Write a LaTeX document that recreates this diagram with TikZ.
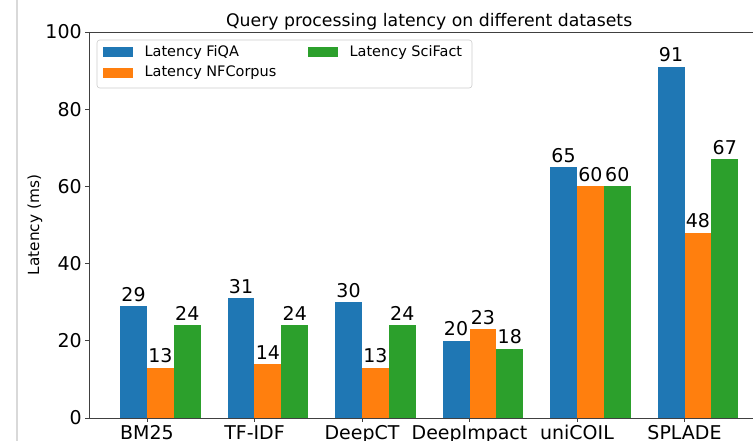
\documentclass[tikz,border=0pt]{standalone}
\usepackage{fontspec}
\setmainfont{DejaVu Sans}
\usetikzlibrary{positioning}
\definecolor{fiqa}{HTML}{1F77B4}
\definecolor{nfcorpus}{HTML}{FF7F0E}
\definecolor{scifact}{HTML}{2CA02C}
\tikzset{
  ticklabel/.style={font=\fontsize{13.5}{16}\selectfont, inner sep=0pt},
  barlabel/.style={font=\fontsize{13.5}{16}\selectfont, inner sep=0pt, anchor=base, yshift=3.5pt},
  legpatch/.style={minimum width=0.75cm, minimum height=0.25cm, inner sep=0pt},
  legtext/.style={font=\fontsize{10.3}{12}\selectfont, inner sep=0pt},
  spine/.style={black!75, line width=0.6pt}
}
\begin{document}
\begin{tikzpicture}[x=2.6875cm, y=0.0965cm]
\useasboundingbox (-1.3674,-5.959) rectangle (5.6372,108.29);
\draw[black!15, line width=0.8pt] (-1.209,-5.959) -- (-1.209,108.29);
% bars and their values
\foreach \i/\a/\b/\c in {0/29/13/24,1/31/14/24,2/30/13/24,3/20/23/18,4/65/60/60,5/91/48/67}{
  \fill[fiqa] (\i-0.25,0) rectangle (\i,\a);
  \fill[nfcorpus] (\i,0) rectangle (\i+0.25,\b);
  \fill[scifact] (\i+0.25,0) rectangle (\i+0.5,\c);
  \node[barlabel] (fiqa\i) at (\i-0.125,\a) {\a};
  \node[barlabel] (nfc\i) at (\i+0.125,\b) {\b};
  \node[barlabel] (sci\i) at (\i+0.375,\c) {\c};
}
% axes
\draw[spine] (-0.5375,100) -- (-0.5375,0) -- (5.7875,0);
\draw[spine] (-0.5375,100) -- (5.7875,100);
\foreach \v in {0,20,...,100}{
  \draw[spine] (-0.5375,\v) -- (-0.575,\v);
  \node[ticklabel, anchor=east] (y\v) at (-0.6047,\v) {\v};
}
\foreach \i/\name in {0/BM25,1/TF-IDF,2/DeepCT,3/DeepImpact,4/uniCOIL,5/SPLADE}{
  \draw[spine] (\i,0) -- (\i,-1.04);
  \node[ticklabel, anchor=base] (x\i) at (\i,-5.55) {\name};
}
\node[rotate=90, font=\fontsize{10.9}{13}\selectfont] (ylabel) at (-1.042,50) {Latency (ms)};
\node[font=\fontsize{12.3}{15}\selectfont, anchor=base] (title) at (2.625,101.55) {Query processing latency on different datasets};
% legend
\draw[rounded corners=2pt, draw=black!20, fill=white] (-0.465,85.49) rectangle (3.023,97.93);
\node[legpatch, fill=fiqa] (pfiqa) at (-0.2695,94.8) {};
\node[legpatch, fill=nfcorpus] (pnfc) at (-0.2695,89.4) {};
\node[legpatch, fill=scifact] (psci) at (1.6375,94.8) {};
\node[legtext, right=0.275cm of pfiqa] (tfiqa) {Latency FiQA};
\node[legtext, right=0.275cm of pnfc] (tnfc) {Latency NFCorpus};
\node[legtext, right=0.275cm of psci] (tsci) {Latency SciFact};
\end{tikzpicture}
\end{document}
